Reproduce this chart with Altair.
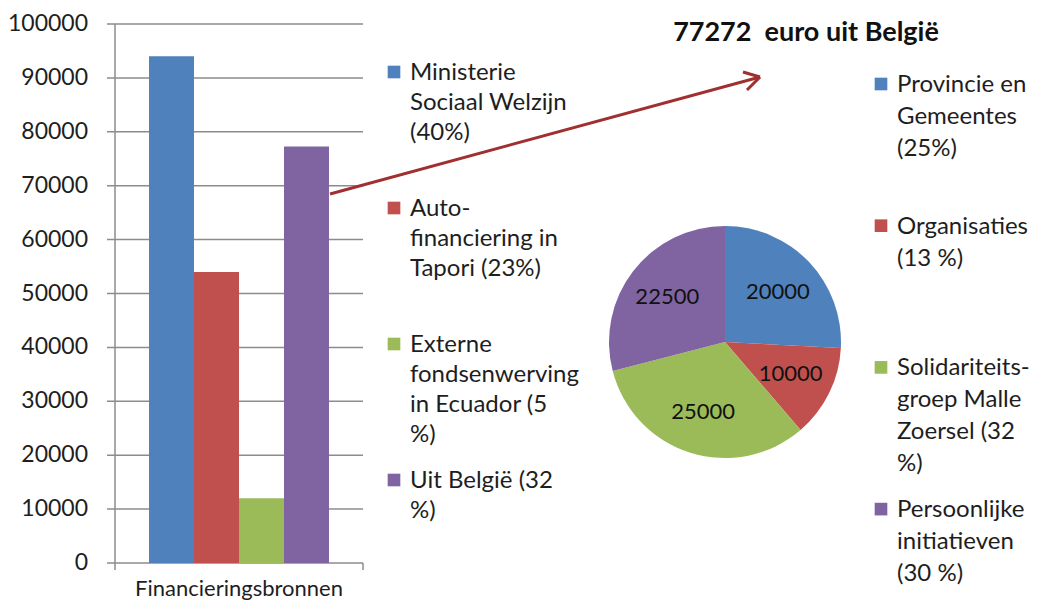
import altair as alt
import pandas as pd

# ---------------- data ----------------
group_label = "Financieringsbronnen"
sources = [
    "Ministerie Sociaal Welzijn (40%)",
    "Auto-financiering in Tapori (23%)",
    "Externe fondsenwerving in Ecuador (5 %)",
    "Uit België (32 %)",
]
source_values = [94000, 54000, 12000, 77272]
source_legend = [
    "Ministerie\nSociaal Welzijn\n(40%)",
    "Auto-\nfinanciering in\nTapori (23%)",
    "Externe\nfondsenwerving\nin Ecuador  (5\n%)",
    "Uit België (32\n%)",
]
y_ticks = [0, 10000, 20000, 30000, 40000, 50000, 60000, 70000, 80000, 90000, 100000]

be_title = "77272\u00a0 euro uit België"
be_cats = [
    "Provincie en Gemeentes",
    "Organisaties",
    "Solidariteitsgroep Malle Zoersel",
    "Persoonlijke initiatieven",
]
be_values = [20000, 10000, 25000, 22500]
be_legend = [
    "Provincie en\nGemeentes\n(25%)",
    "Organisaties\n(13 %)",
    "Solidariteits-\ngroep Malle\nZoersel (32\n%)",
    "Persoonlijke\ninitiatieven\n(30 %)",
]

colors = ["#4f81bd", "#c0504d", "#9bbb59", "#8064a2"]

# ---------------- layout helpers (page px -> chart px) ----------------
W, H = 1023, 592
def px(x):
    return x - 8
def py(y):
    return y - 8

FONT = "Lato"
TXT = "#1e1e1e"
GRID = "#8c8c8c"
ARROW = "#a03030"

one = pd.DataFrame({"a": [0]})

bar_df = pd.DataFrame({"group": group_label, "source": sources, "value": source_values})
tick_df = pd.DataFrame({"tick": y_ticks})
pie_df = pd.DataFrame({"cat": be_cats, "value": be_values, "k": list(range(len(be_cats)))})

yscale = alt.Scale(domain=[0, 100000], range=[py(563), py(24)])

# gridlines (plus the little tick stubs left of the axis)
grid = alt.Chart(tick_df).mark_rule(color=GRID, strokeWidth=1.5).encode(
    y=alt.Y("tick:Q", scale=yscale, axis=None),
    x=alt.value(px(107)),
    x2=alt.value(px(363)),
)
ylabels = alt.Chart(tick_df).mark_text(
    font=FONT, fontSize=23, color=TXT, align="right", baseline="middle"
).encode(
    y=alt.Y("tick:Q", scale=yscale, axis=None),
    text=alt.Text("tick:Q", format="d"),
    x=alt.value(px(88)),
)
yaxis_line = alt.Chart(one).mark_rule(color=GRID, strokeWidth=1.5).encode(
    x=alt.value(px(115)), y=alt.value(py(24)), y2=alt.value(py(563))
)

bars = alt.Chart(bar_df).mark_bar().encode(
    x=alt.X(
        "group:N",
        scale=alt.Scale(range=[px(115), px(363)], paddingInner=0, paddingOuter=0.189),
        axis=alt.Axis(
            title=None, labelAngle=0, ticks=False, domain=False,
            labelFontSize=22, labelFont=FONT, labelColor=TXT, labelPadding=15,
            labelLimit=400, offset=-(H - py(563)),
        ),
    ),
    xOffset=alt.XOffset("source:N", sort=sources, scale=alt.Scale(paddingInner=0, paddingOuter=0)),
    y=alt.Y("value:Q", scale=yscale, axis=None),
    color=alt.Color("source:N", sort=sources, scale=alt.Scale(domain=sources, range=colors), legend=None),
)

xticks = [
    alt.Chart(one).mark_rule(color=GRID, strokeWidth=1.5).encode(
        x=alt.value(px(xx)), y=alt.value(py(563)), y2=alt.value(py(570))
    )
    for xx in (115, 363)
]

# arrow from the "Uit België" bar to the pie title
arrow = [
    alt.Chart(one).mark_rule(color=ARROW, strokeWidth=3).encode(
        x=alt.value(px(x1)), y=alt.value(py(y1)), x2=alt.value(px(x2)), y2=alt.value(py(y2))
    )
    for (x1, y1, x2, y2) in [(330, 194, 760, 77), (743, 72, 760, 77), (747, 90, 760, 77)]
]

title = alt.Chart(one).mark_text(
    text=be_title, font=FONT, fontSize=27, fontWeight="bold", color="#111", align="center", baseline="middle"
).encode(x=alt.value(px(806)), y=alt.value(py(33)))

CX, CY, R = 725, 342, 116
arcs = alt.Chart(pie_df).mark_arc(outerRadius=R).encode(
    theta=alt.Theta("value:Q", stack=True),
    order=alt.Order("k:Q"),
    color=alt.Color("cat:N", sort=be_cats, scale=alt.Scale(domain=be_cats, range=colors), legend=None),
    x=alt.value(px(CX)),
    y=alt.value(py(CY)),
)
pie_labels = alt.Chart(pie_df).mark_text(
    radius=73, font=FONT, fontSize=22, color="#111", align="center", baseline="middle"
).encode(
    theta=alt.Theta("value:Q", stack=True),
    order=alt.Order("k:Q"),
    text=alt.Text("value:Q", format="d"),
    x=alt.value(px(CX)),
    y=alt.value(py(CY)),
)

def legend_layers(labels, x_sq, x_txt, y0, step, lh, size=24):
    out = []
    for i, lab in enumerate(labels):
        yb = y0 + i * step
        out.append(
            alt.Chart(one).mark_square(size=160, color=colors[i], opacity=1).encode(
                x=alt.value(px(x_sq)), y=alt.value(py(yb - 8))
            )
        )
        out.append(
            alt.Chart(one).mark_text(
                text=lab, lineBreak="\n", lineHeight=lh, font=FONT, fontSize=size,
                color=TXT, align="left", baseline="alphabetic",
            ).encode(x=alt.value(px(x_txt)), y=alt.value(py(yb)))
        )
    return out

leg1 = legend_layers(source_legend, 394, 410, 80, 136, 30)
leg2 = legend_layers(be_legend, 881, 897, 92, 141.7, 32)

chart = alt.layer(
    grid, bars, yaxis_line, ylabels, *xticks, *arrow, title, arcs, pie_labels, *leg1, *leg2
).resolve_scale(color="independent").properties(
    width=W, height=H, padding=0, autosize=alt.AutoSizeParams(type="none"),
    background="white",
).configure_view(stroke=None)

chart.save("out.html", embed_options={"renderer": "svg", "actions": False})
